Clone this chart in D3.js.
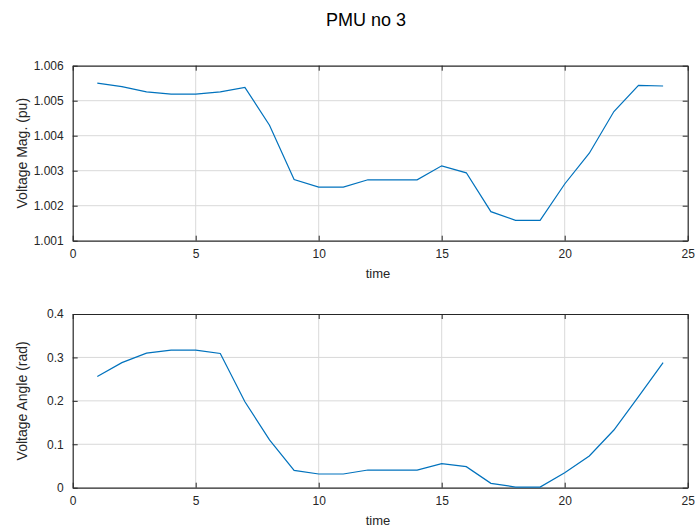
<!DOCTYPE html>
<html>
<head>
<meta charset="utf-8">
<script src="https://cdn.jsdelivr.net/npm/d3@7"></script>
<style>
  body { margin: 0; background: #fff; }
  text { font-family: "Liberation Sans", Arial, sans-serif; fill: #262626; }
</style>
</head>
<body>
<div id="content"></div>
<script>
// data
const time = [1, 2, 3, 4, 5, 6, 7, 8, 9, 10, 11, 12, 13, 14, 15, 16, 17, 18, 19, 20, 21, 22, 23, 24]
const voltMag = [1.00550, 1.00540, 1.00525, 1.00519, 1.00519, 1.00525, 1.00538, 1.00430, 1.00275, 1.00253,
  1.00253, 1.00274, 1.00274, 1.00274, 1.00314, 1.00294, 1.00183, 1.00158, 1.00158, 1.00262,
  1.00350, 1.00469, 1.00544, 1.00542]
const voltAng = [0.256, 0.288, 0.310, 0.317, 0.317, 0.309, 0.198, 0.110, 0.040, 0.0315,
  0.0315, 0.0407, 0.0407, 0.0407, 0.0553, 0.0484, 0.010, 0.0015, 0.0015, 0.0345,
  0.073, 0.1328, 0.2096, 0.288]
const xTicks = [0, 5, 10, 15, 20, 25]
const magTicks = [1.001, 1.002, 1.003, 1.004, 1.005, 1.006]
const angTicks = [0, 0.1, 0.2, 0.3, 0.4]

const W = 698, H = 531
const svg = d3.select('#content').append('svg').attr('width', W).attr('height', H)

svg.append('text')
  .attr('x', 366).attr('y', 26)
  .attr('text-anchor', 'middle')
  .style('font-size', '18px')
  .style('fill', '#000')
  .text('PMU no 3')

function drawPanel(top, bottom, yDomain, yTicks, yFmt, values, ylabel) {
  const left = 72.7, right = 687.7
  const x = d3.scaleLinear().domain([0, 25]).range([left, right])
  const y = d3.scaleLinear().domain(yDomain).range([bottom, top])
  const g = svg.append('g')

  // grid
  g.append('g').selectAll('line').data(xTicks.slice(1, -1)).enter().append('line')
    .attr('x1', d => x(d)).attr('x2', d => x(d)).attr('y1', top).attr('y2', bottom)
    .attr('stroke', '#d9d9d9').attr('stroke-width', 1)
  g.append('g').selectAll('line').data(yTicks.slice(1, -1)).enter().append('line')
    .attr('y1', d => y(d)).attr('y2', d => y(d)).attr('x1', left).attr('x2', right)
    .attr('stroke', '#d9d9d9').attr('stroke-width', 1)

  // axes with inward ticks (box on)
  const tk = 5
  g.append('g').attr('transform', `translate(0,${bottom})`)
    .call(d3.axisBottom(x).tickValues(xTicks).tickSizeInner(-tk).tickSizeOuter(0).tickPadding(9).tickFormat(d3.format('d')))
  g.append('g').attr('transform', `translate(0,${top})`)
    .call(d3.axisTop(x).tickValues(xTicks).tickSizeInner(-tk).tickSizeOuter(0).tickFormat(''))
  g.append('g').attr('transform', `translate(${left},0)`)
    .call(d3.axisLeft(y).tickValues(yTicks).tickSizeInner(-tk).tickSizeOuter(0).tickPadding(9).tickFormat(yFmt))
  g.append('g').attr('transform', `translate(${right},0)`)
    .call(d3.axisRight(y).tickValues(yTicks).tickSizeInner(-tk).tickSizeOuter(0).tickFormat(''))
  g.selectAll('.domain').attr('stroke', '#262626').attr('stroke-width', 1.2)
  g.selectAll('.tick line').attr('stroke', '#262626')
  g.selectAll('.tick text').style('font-size', '12px').attr('fill', '#262626')
    .style('font-family', '"Liberation Sans", Arial, sans-serif')

  // line
  const line = d3.line().x((d, i) => x(time[i])).y(d => y(d))
  g.append('path').datum(values)
    .attr('d', line).attr('fill', 'none')
    .attr('stroke', '#0072BD').attr('stroke-width', 1.2)

  g.append('text')
    .attr('x', 378).attr('y', bottom + 37)
    .attr('text-anchor', 'middle').style('font-size', '13px')
    .text('time')
  g.append('text')
    .attr('transform', `translate(27,${(top + bottom) / 2}) rotate(-90)`)
    .attr('text-anchor', 'middle').style('font-size', '14px')
    .text(ylabel)
}

drawPanel(65.7, 240.7, [1.001, 1.006], magTicks, d3.format('.3f'), voltMag, 'Voltage Mag. (pu)')
drawPanel(314, 487.7, [0, 0.4], angTicks, d => d === 0 ? '0' : d3.format('.1f')(d), voltAng, 'Voltage Angle (rad)')
</script>
</body>
</html>
